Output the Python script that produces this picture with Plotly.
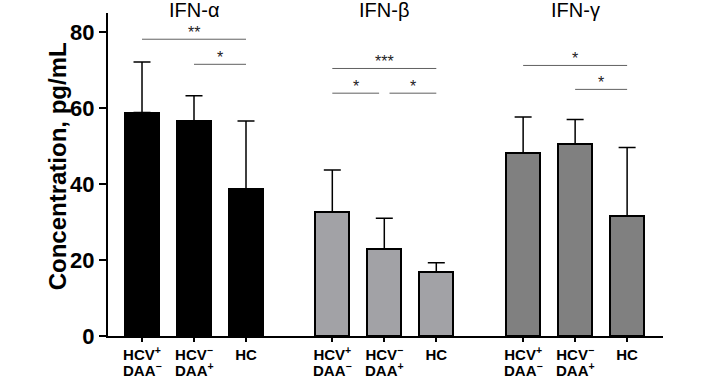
import plotly.graph_objects as go

groups = ["IFN-α", "IFN-β", "IFN-γ"]
label_line1 = ["HCV<sup>+</sup>", "HCV<sup>−</sup>", "HC"]
label_line2 = ["DAA<sup>−</sup>", "DAA<sup>+</sup>", ""]
positions = [[0, 1, 2], [3.66, 4.66, 5.66], [7.33, 8.33, 9.33]]
means = [[58.8, 56.5, 38.7], [32.7, 22.9, 16.9], [48.2, 50.6, 31.5]]
err_top = [[72.1, 63.2, 56.6], [43.7, 31.0, 19.3], [57.6, 57.0, 49.6]]
colors = ["#000000", "#a2a2a6", "#808080"]
# significance: (group, from idx, to idx, y level, label)
sig = [
    (0, 0, 2, 78.1, "**"), (0, 1, 2, 71.5, "*"),
    (1, 0, 2, 70.4, "***"), (1, 0, 1, 63.9, "*"), (1, 1, 2, 63.9, "*"),
    (2, 0, 2, 71.2, "*"), (2, 1, 2, 64.9, "*"),
]

FONT = "Liberation Sans, Arial"
fig = go.Figure()
for g in range(3):
    fig.add_trace(go.Bar(
        x=positions[g], y=means[g], width=0.66,
        marker=dict(color=colors[g], line=dict(color="black", width=2)),
        error_y=dict(type="data", symmetric=False,
                     array=[t - m for t, m in zip(err_top[g], means[g])],
                     arrayminus=[0, 0, 0], color="black", thickness=1.5, width=8.5),
        showlegend=False, hoverinfo="skip"))

shapes = []
annotations = []
for g, a, b, y, lab in sig:
    x0 = positions[g][a]
    x1 = positions[g][b]
    if g == 1 and a == 0 and b == 1:
        x1 = x1 - 0.1
    if g == 1 and a == 1 and b == 2:
        x0 = x0 + 0.1
    shapes.append(dict(type="line", xref="x", yref="y", x0=x0, x1=x1, y0=y, y1=y,
                       line=dict(color="#606060", width=1)))
    annotations.append(dict(x=(x0 + x1) / 2, y=y, xref="x", yref="y", text=lab,
                            showarrow=False, yanchor="bottom", yshift=-4,
                            font=dict(family=FONT, size=16, color="#222222")))

for g in range(3):
    annotations.append(dict(x=positions[g][1], y=1.0, xref="x", yref="paper", text=groups[g],
                            showarrow=False, yanchor="middle", yshift=3,
                            font=dict(family=FONT, size=20, color="black")))
    for i in range(3):
        if label_line2[i]:
            annotations.append(dict(x=positions[g][i], y=0, xref="x", yref="paper",
                                    text=label_line2[i], showarrow=False,
                                    yanchor="middle", yshift=-33,
                                    font=dict(family=FONT, size=15, color="black", weight="bold")))

# y-axis title as a rotated annotation
annotations.append(dict(x=-0.092, y=0.525, xref="paper", yref="paper",
                        text="Concentration, pg/mL", textangle=-90, showarrow=False,
                        xanchor="center", yanchor="middle",
                        font=dict(family=FONT, size=24, color="black", weight="bold")))

tickvals = [p for grp in positions for p in grp]
ticktext = label_line1 * 3

fig.update_layout(
    width=706, height=380,
    margin=dict(l=108, r=43, t=13, b=44),
    plot_bgcolor="white", paper_bgcolor="white",
    bargap=0,
    shapes=shapes, annotations=annotations,
    font=dict(family=FONT, color="black"),
    xaxis=dict(range=[-0.654, 10.02], tickvals=tickvals, ticktext=ticktext, automargin=False,
               showline=True, linecolor="black", linewidth=2, ticks="outside",
               ticklen=4, tickwidth=2, tickcolor="black", showgrid=False, zeroline=False,
               tickfont=dict(family=FONT, size=15, color="black", weight="bold")),
    yaxis=dict(range=[0, 85], tickvals=[0, 20, 40, 60, 80], automargin=False,
               showline=True, linecolor="black", linewidth=2, ticks="outside",
               ticklen=7, tickwidth=2, tickcolor="black", showgrid=False, zeroline=False,
               tickfont=dict(family=FONT, size=22, color="black", weight="bold")),
)

# remove the default page margin so the figure sits at the window's top-left corner
fig.write_html("out.html", config={"displayModeBar": False},
               post_script="document.body.style.margin='0';document.body.style.overflow='hidden';")
